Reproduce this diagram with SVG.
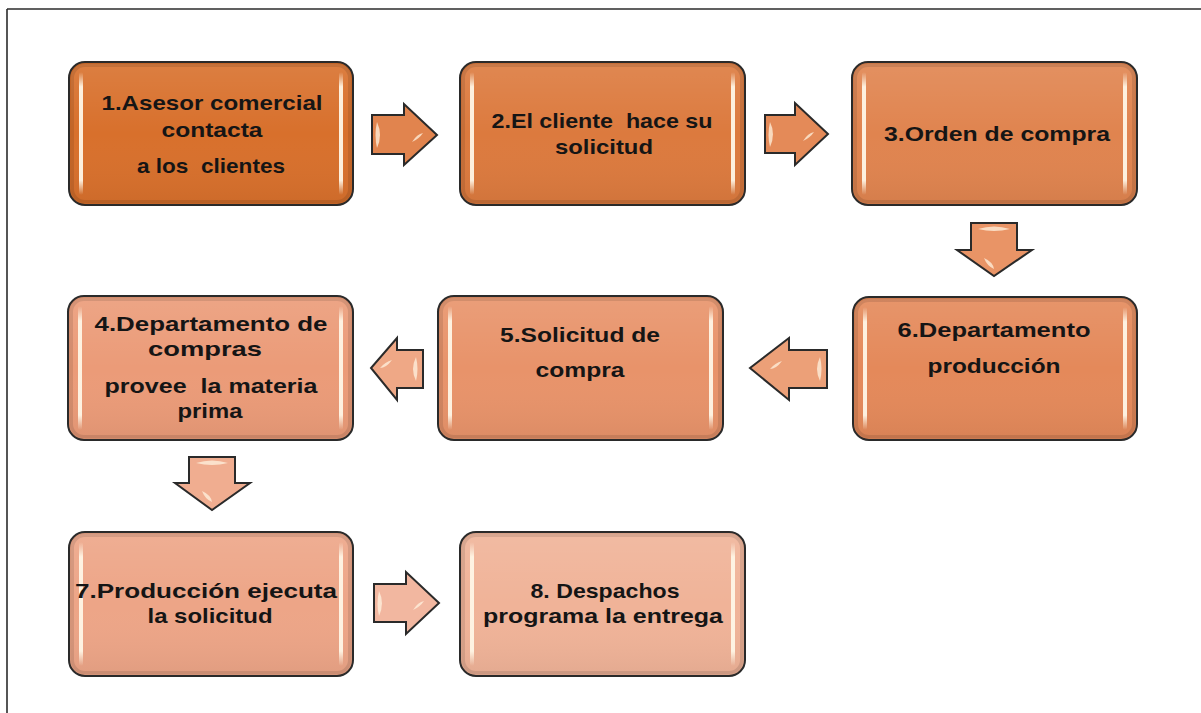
<svg xmlns="http://www.w3.org/2000/svg" width="1201" height="713" viewBox="0 0 1201 713">
<style>
.frame{stroke:#2b2b2b;stroke-width:1.6;fill:none}
.box{stroke:#2a2a2a;stroke-width:2}
.inner{fill:none;stroke:#000;stroke-opacity:0.10;stroke-width:4}
.shine{fill:url(#shineG)}
.arrow{stroke:#2a2a2a;stroke-width:2;stroke-linejoin:miter}
.hl{fill:#fff3e0;opacity:0.75}
text{font-family:"Liberation Sans",Arial,sans-serif;font-weight:bold;font-size:21px;fill:#151515;text-anchor:middle}
</style>
<defs>
<linearGradient id="shineG" x1="0" y1="0" x2="0" y2="1">
<stop offset="0" stop-color="#fff6e6" stop-opacity="0"/>
<stop offset="0.12" stop-color="#fff6e6" stop-opacity="0.95"/>
<stop offset="0.88" stop-color="#fff6e6" stop-opacity="0.95"/>
<stop offset="1" stop-color="#fff6e6" stop-opacity="0"/>
</linearGradient>
<linearGradient id="gloss" x1="0" y1="0" x2="0" y2="1">
<stop offset="0" stop-color="#fff" stop-opacity="0.10"/>
<stop offset="0.5" stop-color="#fff" stop-opacity="0"/>
<stop offset="1" stop-color="#000" stop-opacity="0.05"/>
</linearGradient>
</defs>

<line class="frame" x1="7" y1="9" x2="1201" y2="9"/>
<line class="frame" x1="7" y1="9" x2="7" y2="713"/>

<g id="connectors">
<g id="a12"><path class="arrow" fill="#e1844e" d="M372,115 H404 V104 L437,135 L404,165 V154 H372 Z"/><path class="hl" d="M377,122 q6,13 0,26 q-3,-13 0,-26z"/><path class="hl" d="M412,142 q5,-8 11,-9 q-4,6 -11,9z"/></g>
<g id="a23"><path class="arrow" fill="#e48a58" d="M765,115 H795 V103 L828,134 L795,165 V153 H765 Z"/><path class="hl" d="M770,122 q6,12 0,25 q-3,-12 0,-25z"/><path class="hl" d="M803,141 q5,-8 11,-9 q-4,6 -11,9z"/></g>
<g id="a36"><path class="arrow" fill="#e99466" d="M971,223 H1017 V250 H1032 L994,276 L957,250 H971 Z"/><path class="hl" d="M978,229 q16,-5 32,0 q-16,4 -32,0z"/><path class="hl" d="M984,258 q9,4 10,11 q-7,-3 -10,-11z"/></g>
<g id="a65"><path class="arrow" fill="#eca078" d="M827,350 V388 H789 V400 L750,368 L789,338 V350 Z"/><path class="hl" d="M820,357 q-6,12 0,24 q3,-12 0,-24z"/><path class="hl" d="M782,361 q-6,8 -12,8 q5,-6 12,-8z"/></g>
<g id="a54"><path class="arrow" fill="#efa886" d="M423,350 V388 H397 V400 L371,368 L397,338 V350 Z"/><path class="hl" d="M416,357 q-6,12 0,24 q3,-12 0,-24z"/><path class="hl" d="M392,360 q-6,8 -12,8 q5,-6 12,-8z"/></g>
<g id="a47"><path class="arrow" fill="#f0ad90" d="M189,457 H235 V483 H250 L212,510 L175,483 H189 Z"/><path class="hl" d="M196,463 q16,-5 32,0 q-16,4 -32,0z"/><path class="hl" d="M202,491 q9,4 10,11 q-7,-3 -10,-11z"/></g>
<g id="a78"><path class="arrow" fill="#f2b7a0" d="M374,584 H406 V572 L439,603 L406,634 V622 H374 Z"/><path class="hl" d="M379,591 q6,12 0,25 q-3,-12 0,-25z"/><path class="hl" d="M413,610 q5,-8 11,-9 q-4,6 -11,9z"/></g>
</g>

<g id="n1">
<rect class="box" x="69" y="62" width="284" height="143" rx="16" fill="#d8702c"/>
<rect x="71" y="64" width="280" height="139" rx="14" fill="url(#gloss)"/>
<rect class="inner" x="72" y="65" width="278" height="137" rx="13"/>
<rect class="shine" x="79" y="72" width="4" height="123" rx="2"/>
<rect class="shine" x="339" y="72" width="4" height="123" rx="2"/>
<text x="212" y="110" textLength="221" lengthAdjust="spacingAndGlyphs">1.Asesor comercial</text>
<text x="212" y="137" textLength="101" lengthAdjust="spacingAndGlyphs">contacta</text>
<text x="211" y="173" textLength="148" lengthAdjust="spacingAndGlyphs" xml:space="preserve">a los  clientes</text>
</g>

<g id="n2">
<rect class="box" x="460" y="62" width="285" height="143" rx="16" fill="#dc7a3e"/>
<rect x="462" y="64" width="281" height="139" rx="14" fill="url(#gloss)"/>
<rect class="inner" x="463" y="65" width="279" height="137" rx="13"/>
<rect class="shine" x="470" y="72" width="4" height="123" rx="2"/>
<rect class="shine" x="731" y="72" width="4" height="123" rx="2"/>
<text x="602" y="128" textLength="221" lengthAdjust="spacingAndGlyphs" xml:space="preserve">2.El cliente  hace su</text>
<text x="604" y="154" textLength="98" lengthAdjust="spacingAndGlyphs">solicitud</text>
</g>

<g id="n3">
<rect class="box" x="852" y="62" width="285" height="143" rx="16" fill="#e0844f"/>
<rect x="854" y="64" width="281" height="139" rx="14" fill="url(#gloss)"/>
<rect class="inner" x="855" y="65" width="279" height="137" rx="13"/>
<rect class="shine" x="862" y="72" width="4" height="123" rx="2"/>
<rect class="shine" x="1123" y="72" width="4" height="123" rx="2"/>
<text x="997" y="141" textLength="226" lengthAdjust="spacingAndGlyphs">3.Orden de compra</text>
</g>

<g id="n6">
<rect class="box" x="853" y="297" width="284" height="143" rx="16" fill="#e4895a"/>
<rect x="855" y="299" width="280" height="139" rx="14" fill="url(#gloss)"/>
<rect class="inner" x="856" y="300" width="278" height="137" rx="13"/>
<rect class="shine" x="863" y="307" width="4" height="123" rx="2"/>
<rect class="shine" x="1123" y="307" width="4" height="123" rx="2"/>
<text x="994" y="337" textLength="193" lengthAdjust="spacingAndGlyphs">6.Departamento</text>
<text x="994" y="373" textLength="133" lengthAdjust="spacingAndGlyphs">producción</text>
</g>

<g id="n5">
<rect class="box" x="438" y="296" width="285" height="144" rx="16" fill="#e8936a"/>
<rect x="440" y="298" width="281" height="140" rx="14" fill="url(#gloss)"/>
<rect class="inner" x="441" y="299" width="279" height="138" rx="13"/>
<rect class="shine" x="448" y="306" width="4" height="124" rx="2"/>
<rect class="shine" x="709" y="306" width="4" height="124" rx="2"/>
<text x="580" y="342" textLength="160" lengthAdjust="spacingAndGlyphs">5.Solicitud de</text>
<text x="580" y="377" textLength="89" lengthAdjust="spacingAndGlyphs">compra</text>
</g>

<g id="n4">
<rect class="box" x="68" y="296" width="285" height="144" rx="16" fill="#eb9b78"/>
<rect x="70" y="298" width="281" height="140" rx="14" fill="url(#gloss)"/>
<rect class="inner" x="71" y="299" width="279" height="138" rx="13"/>
<rect class="shine" x="78" y="306" width="4" height="124" rx="2"/>
<rect class="shine" x="339" y="306" width="4" height="124" rx="2"/>
<text x="211" y="331" textLength="233" lengthAdjust="spacingAndGlyphs">4.Departamento de</text>
<text x="205" y="356" textLength="114" lengthAdjust="spacingAndGlyphs">compras</text>
<text x="211" y="393" textLength="213" lengthAdjust="spacingAndGlyphs" xml:space="preserve">provee  la materia</text>
<text x="210" y="418" textLength="65" lengthAdjust="spacingAndGlyphs">prima</text>
</g>

<g id="n7">
<rect class="box" x="69" y="532" width="284" height="144" rx="16" fill="#eda587"/>
<rect x="71" y="534" width="280" height="140" rx="14" fill="url(#gloss)"/>
<rect class="inner" x="72" y="535" width="278" height="138" rx="13"/>
<rect class="shine" x="79" y="542" width="4" height="124" rx="2"/>
<rect class="shine" x="339" y="542" width="4" height="124" rx="2"/>
<text x="206" y="598" textLength="262" lengthAdjust="spacingAndGlyphs">7.Producción ejecuta</text>
<text x="210" y="623" textLength="125" lengthAdjust="spacingAndGlyphs">la solicitud</text>
</g>

<g id="n8">
<rect class="box" x="460" y="532" width="285" height="144" rx="16" fill="#f0b398"/>
<rect x="462" y="534" width="281" height="140" rx="14" fill="url(#gloss)"/>
<rect class="inner" x="463" y="535" width="279" height="138" rx="13"/>
<rect class="shine" x="470" y="542" width="4" height="124" rx="2"/>
<rect class="shine" x="731" y="542" width="4" height="124" rx="2"/>
<text x="605" y="598" textLength="149" lengthAdjust="spacingAndGlyphs">8. Despachos</text>
<text x="603" y="623" textLength="240" lengthAdjust="spacingAndGlyphs">programa la entrega</text>
</g>
</svg>
